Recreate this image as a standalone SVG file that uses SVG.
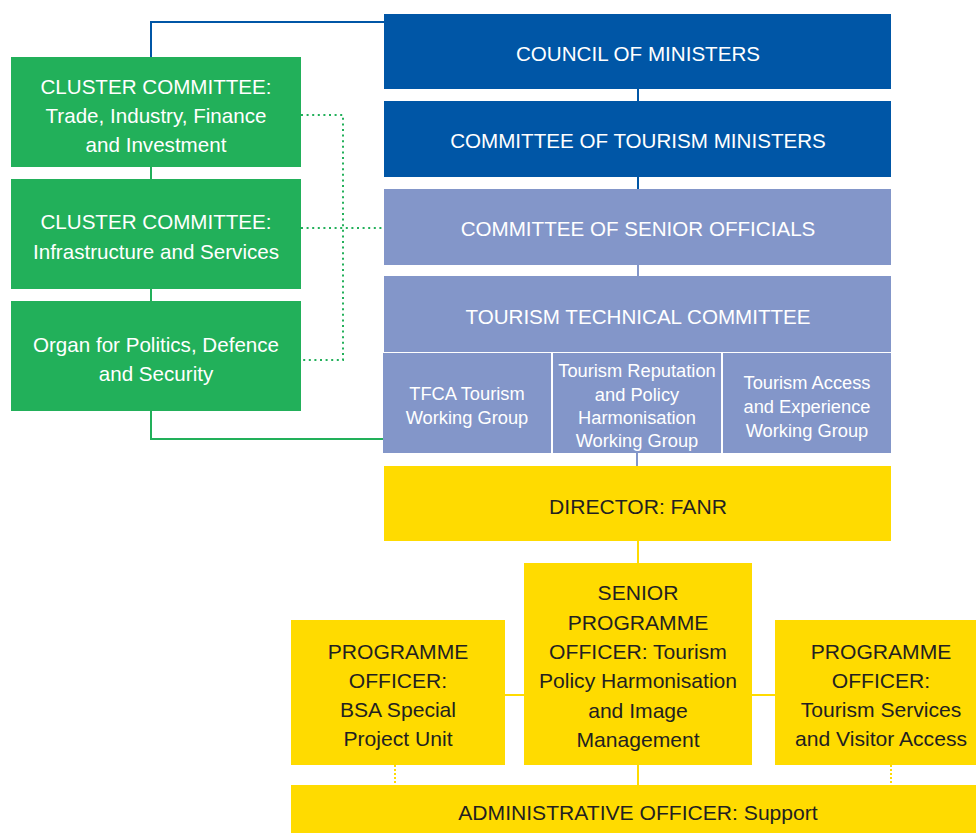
<svg xmlns="http://www.w3.org/2000/svg" width="976" height="833" viewBox="0 0 976 833">
<style>
text{font-family:"Liberation Sans",Arial,sans-serif;text-anchor:middle}
.w{fill:#ffffff;font-size:20.6px}
.ws{fill:#ffffff;font-size:18.3px}
.k{fill:#231f20;font-size:21.1px}
.db{fill:#0056a6}
.lv{fill:#8396c9}
.gr{fill:#22b05a}
.ye{fill:#ffdb00}
.ln{fill:none;stroke-width:2}
</style>
<g id="connectors">
<polyline class="ln" stroke="#0056a6" points="384,22 151,22 151,57"/>
<polyline class="ln" stroke="#22b05a" points="151,167 151,179"/>
<polyline class="ln" stroke="#22b05a" points="151,289 151,301"/>
<polyline class="ln" stroke="#22b05a" points="151,411 151,439 384,439"/>
<polyline class="ln" stroke="#22b05a" stroke-dasharray="2 3.6" points="301,115 343,115 343,360 301,360"/>
<line class="ln" stroke="#22b05a" stroke-dasharray="2 3.6" x1="301" y1="228" x2="384" y2="228"/>
<line class="ln" stroke="#0056a6" x1="638" y1="89" x2="638" y2="101"/>
<line class="ln" stroke="#0056a6" x1="638" y1="177" x2="638" y2="189"/>
<line class="ln" stroke="#8396c9" x1="638" y1="265" x2="638" y2="276"/>
<line class="ln" stroke="#8396c9" x1="637" y1="453" x2="637" y2="466"/>
<line class="ln" stroke="#ffdb00" x1="638" y1="541" x2="638" y2="563"/>
<line class="ln" stroke="#ffdb00" x1="505" y1="695" x2="524" y2="695"/>
<line class="ln" stroke="#ffdb00" x1="752" y1="695" x2="775" y2="695"/>
<line class="ln" stroke="#ffdb00" x1="638" y1="765" x2="638" y2="785"/>
<line class="ln" stroke="#ffdb00" stroke-dasharray="2 2" x1="395" y1="765" x2="395" y2="785"/>
<line class="ln" stroke="#ffdb00" stroke-dasharray="2 2" x1="891" y1="765" x2="891" y2="785"/>
</g>
<g id="council"><rect class="db" x="384" y="14" width="507" height="75"/><text class="w" x="638" y="61">COUNCIL OF MINISTERS</text></g>
<g id="tourism-ministers"><rect class="db" x="384" y="101" width="507" height="76"/><text class="w" x="638" y="148">COMMITTEE OF TOURISM MINISTERS</text></g>
<g id="senior-officials"><rect class="lv" x="384" y="189" width="507" height="76"/><text class="w" x="638" y="236">COMMITTEE OF SENIOR OFFICIALS</text></g>
<g id="technical"><rect class="lv" x="384" y="276" width="507" height="76"/><text class="w" x="638" y="324">TOURISM TECHNICAL COMMITTEE</text></g>
<g id="wg-tfca"><rect class="lv" x="383" y="353" width="168" height="100"/><text class="ws" x="467" y="400">TFCA Tourism</text><text class="ws" x="467" y="424">Working Group</text></g>
<g id="wg-reputation"><rect class="lv" x="553" y="353" width="168" height="100"/><text class="ws" x="637" y="377">Tourism Reputation</text><text class="ws" x="637" y="401">and Policy</text><text class="ws" x="637" y="424">Harmonisation</text><text class="ws" x="637" y="447">Working Group</text></g>
<g id="wg-access"><rect class="lv" x="723" y="353" width="168" height="100"/><text class="ws" x="807" y="389">Tourism Access</text><text class="ws" x="807" y="413">and Experience</text><text class="ws" x="807" y="437">Working Group</text></g>
<g id="cluster-trade"><rect class="gr" x="11" y="57" width="290" height="110"/><text class="w" x="156" y="94">CLUSTER COMMITTEE:</text><text class="w" x="156" y="123">Trade, Industry, Finance</text><text class="w" x="156" y="152">and Investment</text></g>
<g id="cluster-infra"><rect class="gr" x="11" y="179" width="290" height="110"/><text class="w" x="156" y="229">CLUSTER COMMITTEE:</text><text class="w" x="156" y="259">Infrastructure and Services</text></g>
<g id="organ"><rect class="gr" x="11" y="301" width="290" height="110"/><text class="w" x="156" y="352">Organ for Politics, Defence</text><text class="w" x="156" y="381">and Security</text></g>
<g id="director"><rect class="ye" x="384" y="466" width="507" height="75"/><text class="k" x="638" y="514">DIRECTOR: FANR</text></g>
<g id="senior-po"><rect class="ye" x="524" y="563" width="228" height="202"/><text class="k" x="638" y="600">SENIOR</text><text class="k" x="638" y="630">PROGRAMME</text><text class="k" x="638" y="659">OFFICER: Tourism</text><text class="k" x="638" y="688">Policy Harmonisation</text><text class="k" x="638" y="718">and Image</text><text class="k" x="638" y="747">Management</text></g>
<g id="po-bsa"><rect class="ye" x="291" y="620" width="214" height="145"/><text class="k" x="398" y="659">PROGRAMME</text><text class="k" x="398" y="688">OFFICER:</text><text class="k" x="398" y="717">BSA Special</text><text class="k" x="398" y="746">Project Unit</text></g>
<g id="po-services"><rect class="ye" x="775" y="620" width="201" height="145"/><text class="k" x="881" y="659">PROGRAMME</text><text class="k" x="881" y="688">OFFICER:</text><text class="k" x="881" y="717">Tourism Services</text><text class="k" x="881" y="746">and Visitor Access</text></g>
<g id="admin"><rect class="ye" x="291" y="785" width="685" height="48"/><text class="k" x="638" y="820">ADMINISTRATIVE OFFICER: Support</text></g>
</svg>
